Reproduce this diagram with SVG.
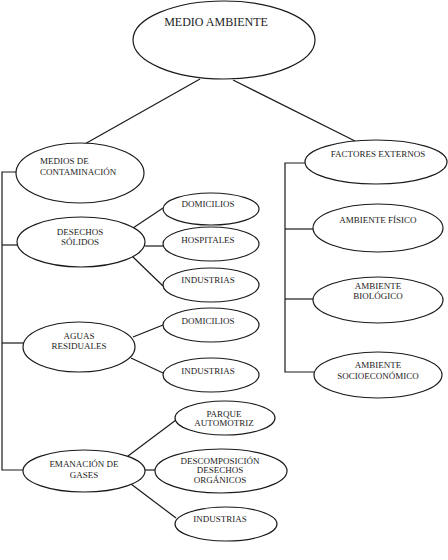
<svg xmlns="http://www.w3.org/2000/svg" width="448" height="560" viewBox="0 0 448 560">
<style>
ellipse{fill:#fff;stroke:#1a1a1a;stroke-width:1.2}
.c line,.c polyline{stroke:#1a1a1a;stroke-width:1.2;fill:none}
text{font-family:"Liberation Serif","Times New Roman",serif;font-size:9px;fill:#222;text-anchor:middle}
.big{font-size:12px}
</style>
<rect width="448" height="560" fill="#fff"/>
<g class="c" id="connectors">
<line x1="200" y1="79" x2="83" y2="145"/>
<line x1="233" y1="80" x2="355" y2="141"/>
<polyline points="17,172 2,172 2,470 23,470"/>
<line x1="2" y1="245" x2="17" y2="245"/>
<line x1="2" y1="343" x2="23" y2="343"/>
<polyline points="305,163 285,163 285,372 314,372"/>
<line x1="285" y1="229" x2="313" y2="229"/>
<line x1="285" y1="299" x2="313" y2="299"/>
<line x1="133" y1="228" x2="163" y2="208"/>
<line x1="145" y1="246" x2="163" y2="246"/>
<line x1="133" y1="257" x2="163" y2="286"/>
<line x1="133" y1="337" x2="163" y2="325"/>
<line x1="131" y1="358" x2="163" y2="373"/>
<line x1="128" y1="456" x2="176" y2="420"/>
<line x1="145" y1="470" x2="155" y2="470"/>
<line x1="131" y1="484" x2="176" y2="518"/>
</g>
<g id="medio-ambiente"><ellipse cx="224" cy="40" rx="91" ry="39"/><text class="big" x="216" y="26">MEDIO AMBIENTE</text></g>
<g id="medios"><ellipse cx="80" cy="173" rx="64" ry="30"/><text x="40" y="164" style="text-anchor:start">MEDIOS DE</text><text x="40" y="175" style="text-anchor:start">CONTAMINACIÓN</text></g>
<g id="desechos"><ellipse cx="81" cy="242" rx="64" ry="25"/><text x="80" y="235">DESECHOS</text><text x="80" y="245">SÓLIDOS</text></g>
<g id="domicilios1"><ellipse cx="211" cy="209" rx="48" ry="16"/><text x="208" y="207">DOMICILIOS</text></g>
<g id="hospitales"><ellipse cx="211" cy="244" rx="48" ry="17"/><text x="208" y="243">HOSPITALES</text></g>
<g id="industrias1"><ellipse cx="211" cy="285" rx="48" ry="17"/><text x="208" y="283">INDUSTRIAS</text></g>
<g id="aguas"><ellipse cx="79" cy="347" rx="56" ry="25"/><text x="79" y="339">AGUAS</text><text x="79" y="349">RESIDUALES</text></g>
<g id="domicilios2"><ellipse cx="211" cy="325" rx="48" ry="17"/><text x="208" y="324">DOMICILIOS</text></g>
<g id="industrias2"><ellipse cx="211" cy="375" rx="48" ry="17"/><text x="208" y="374">INDUSTRIAS</text></g>
<g id="emanacion"><ellipse cx="84" cy="471" rx="61" ry="21"/><text x="84" y="467">EMANACIÓN DE</text><text x="84" y="478">GASES</text></g>
<g id="parque"><ellipse cx="225" cy="418" rx="50" ry="17"/><text x="224" y="417">PARQUE</text><text x="224" y="426">AUTOMOTRIZ</text></g>
<g id="descomposicion"><ellipse cx="221" cy="471" rx="66" ry="22"/><text x="220" y="464">DESCOMPOSICIÓN</text><text x="220" y="473">DESECHOS</text><text x="220" y="483">ORGÁNICOS</text></g>
<g id="industrias3"><ellipse cx="226" cy="524" rx="51" ry="17"/><text x="220" y="522">INDUSTRIAS</text></g>
<g id="factores"><ellipse cx="376" cy="162" rx="71" ry="22"/><text x="378" y="157">FACTORES EXTERNOS</text></g>
<g id="fisico"><ellipse cx="378" cy="228" rx="65" ry="24"/><text x="378" y="223">AMBIENTE FÍSICO</text></g>
<g id="biologico"><ellipse cx="378" cy="300" rx="65" ry="23"/><text x="378" y="289">AMBIENTE</text><text x="378" y="299">BIOLÓGICO</text></g>
<g id="socio"><ellipse cx="378" cy="375" rx="64" ry="23"/><text x="378" y="368">AMBIENTE</text><text x="378" y="379">SOCIOECONÓMICO</text></g>
</svg>
